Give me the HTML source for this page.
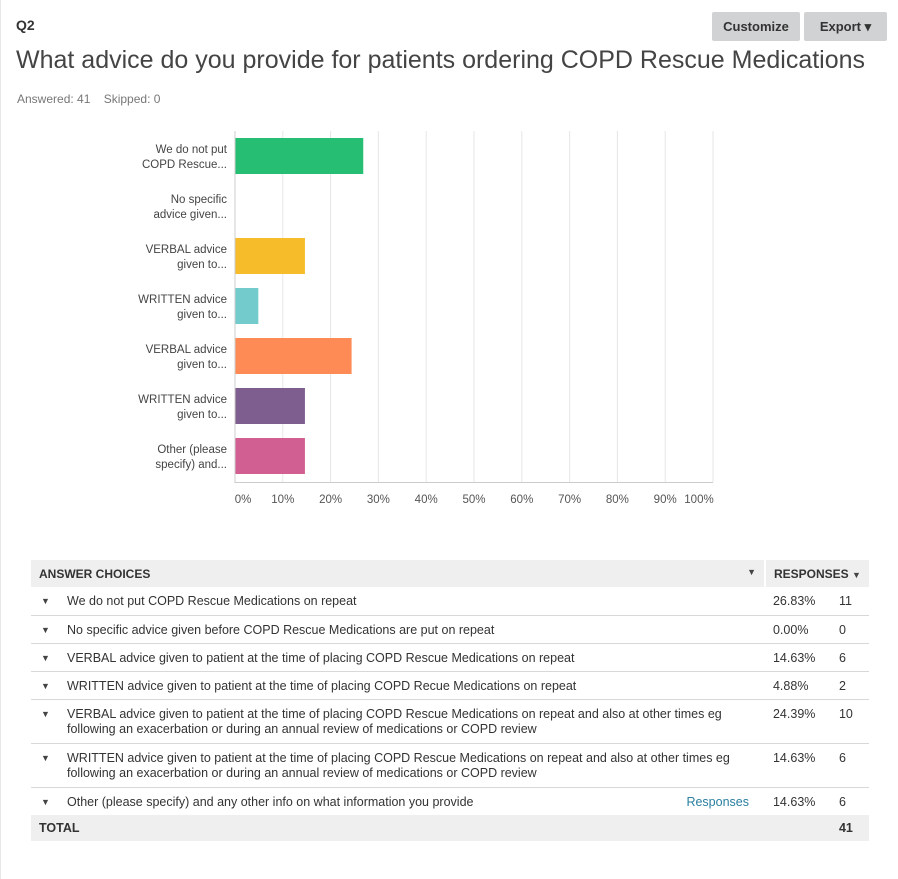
<!DOCTYPE html>
<html><head><meta charset="utf-8"><style>
body{margin:0;width:898px;height:879px;background:#fff;font-family:"Liberation Sans",sans-serif;color:#333;position:relative;overflow:hidden}
.abs{position:absolute}
.btn{position:absolute;top:12px;height:29px;background:#d0d2d3;border-radius:2px;font-size:13px;font-weight:bold;color:#333;line-height:29px;text-align:center}
table{position:absolute;left:31px;top:560px;width:838px;border-collapse:collapse;font-size:12.5px;color:#333;table-layout:fixed}
td{padding:0 8px;vertical-align:top;border-bottom:1px solid #d8d8d8;box-sizing:border-box}
tr.h td{background:#efefef;font-weight:bold;height:27px;vertical-align:middle;font-size:12px;border-bottom:none}
tr.r td{padding-top:7px;padding-bottom:5px;line-height:15px}
tr.r1 td{height:28px}
tr.r2 td{height:44px}
tr.t td{background:#efefef;font-weight:bold;height:26px;vertical-align:middle;border-bottom:none}
.c{font-size:9px;color:#444}
.f{display:flex}.f .c{width:26px;flex:none;padding-left:2px}
</style></head><body>
<div class="abs" style="left:0;top:0;width:1px;height:879px;background:#e6e6e6"></div>
<div class="abs" style="left:16px;top:17px;font-size:14px;font-weight:bold">Q2</div>
<div class="btn" style="left:712px;width:88px">Customize</div>
<div class="btn" style="left:804px;width:83px">Export ▾</div>
<div class="abs" style="left:16px;top:46px;font-size:25px;color:#444;white-space:nowrap">What advice do you provide for patients ordering COPD Rescue Medications</div>
<div class="abs" style="left:17px;top:92px;font-size:12px;color:#777">Answered: 41&nbsp;&nbsp;&nbsp;&nbsp;Skipped: 0</div>
<svg class="abs" style="left:0;top:0" width="898" height="540" id="chart"></svg>
<table>
<colgroup><col><col style="width:66px"><col style="width:38px"></colgroup>
<tr class="h"><td>ANSWER CHOICES<span style="float:right" class="c">▼</span></td><td style="border-left:2px solid #fff" colspan="2">RESPONSES <span class="c">▼</span></td></tr>
<tr class="r r1"><td><div class="f"><span class="c">▼</span><span>We do not put COPD Rescue Medications on repeat</span></div></td><td>26.83%</td><td>11</td></tr>
<tr class="r r1"><td><div class="f"><span class="c">▼</span><span>No specific advice given before COPD Rescue Medications are put on repeat</span></div></td><td>0.00%</td><td>0</td></tr>
<tr class="r r1"><td><div class="f"><span class="c">▼</span><span>VERBAL advice given to patient at the time of placing COPD Rescue Medications on repeat</span></div></td><td>14.63%</td><td>6</td></tr>
<tr class="r r1"><td><div class="f"><span class="c">▼</span><span>WRITTEN advice given to patient at the time of placing COPD Recue Medications on repeat</span></div></td><td>4.88%</td><td>2</td></tr>
<tr class="r r2"><td><div class="f"><span class="c">▼</span><span>VERBAL advice given to patient at the time of placing COPD Rescue Medications on repeat and also at other times eg following an exacerbation or during an annual review of medications or COPD review</span></div></td><td>24.39%</td><td>10</td></tr>
<tr class="r r2"><td><div class="f"><span class="c">▼</span><span>WRITTEN advice given to patient at the time of placing COPD Rescue Medications on repeat and also at other times eg following an exacerbation or during an annual review of medications or COPD review</span></div></td><td>14.63%</td><td>6</td></tr>
<tr class="r r1"><td style="border-bottom:none"><div class="f"><span class="c">▼</span><span style="flex:1">Other (please specify) and any other info on what information you provide</span><span style="color:#2a7fa0;padding-right:8px">Responses</span></div></td><td style="border-bottom:none">14.63%</td><td style="border-bottom:none">6</td></tr>
<tr class="t"><td>TOTAL</td><td></td><td>41</td></tr>
</table>
<script>
const labels1=["We do not put","No specific","VERBAL advice","WRITTEN advice","VERBAL advice","WRITTEN advice","Other (please"];
const labels2=["COPD Rescue...","advice given...","given to...","given to...","given to...","given to...","specify) and..."];
const values=[26.83,0,14.63,4.88,24.39,14.63,14.63];
const colors=["#26be73","#a0a0a0","#f6bc29","#73cbcb","#fe8b55","#7d5e8e","#d25f91"];
const ticks=[0,10,20,30,40,50,60,70,80,90,100];
const svg=document.getElementById('chart');const NS='http://www.w3.org/2000/svg';
const x0=235,x1=713,top0=131,step=50;
const X=v=>x0+(x1-x0)*v/100;
function mk(t,a){const e=document.createElementNS(NS,t);for(const k in a)e.setAttribute(k,a[k]);svg.appendChild(e);return e;}
ticks.forEach((t,i)=>{if(t>0){const l=mk('line',{x1:X(t),x2:X(t),y1:top0,y2:482,stroke:'#e6e6e6'});

}
const tx=mk('text',{x:X(t)+(t==100?-14:t==0?8:0),y:503,'font-size':11.5,fill:'#555','text-anchor':'middle','font-family':'Liberation Sans'});tx.textContent=t+'%';

});
values.forEach((v,i)=>{const cy=top0+25+i*step;
const r=mk('rect',{x:x0,y:cy-18,width:X(v)-x0,height:36,fill:colors[i]});


[labels1[i],labels2[i]].forEach((s,j)=>{const t=mk('text',{x:227,y:cy-3+j*15,'font-size':11.5,fill:'#444','text-anchor':'end','font-family':'Liberation Sans'});t.textContent=s;

});});
const ax=mk('line',{x1:x0,x2:x0,y1:top0,y2:483,stroke:'#ccc'});


const bx=mk('line',{x1:x0,x2:x1,y1:482.5,y2:482.5,stroke:'#ccc'});


</script>
</body></html>
